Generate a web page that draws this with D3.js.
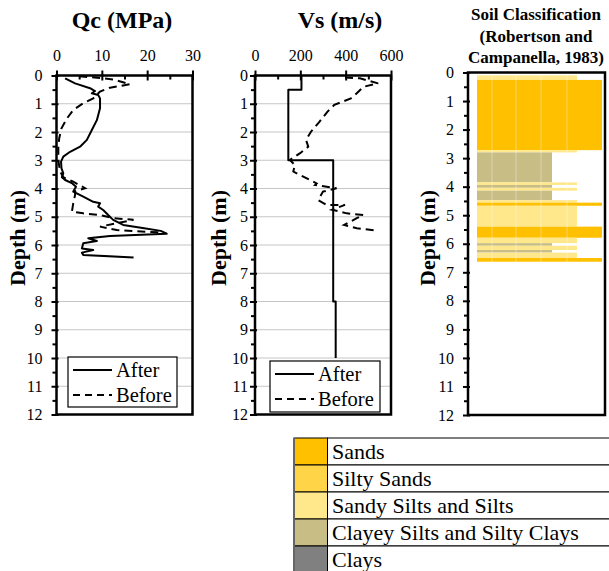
<!DOCTYPE html>
<html>
<head>
<meta charset="utf-8">
<script src="https://cdn.jsdelivr.net/npm/d3@7"></script>
<style>
  body { margin: 0; background: #fff; }
  svg { display: block; }
</style>
</head>
<body>
<svg id="chart" width="609" height="571"></svg>
<script>
// ---- data ----
const depthTicks = [0, 1, 2, 3, 4, 5, 6, 7, 8, 9, 10, 11, 12];
const depthMinor = [0.5, 1.5, 2.5, 3.5, 4.5, 5.5, 6.5, 7.5, 8.5, 9.5, 10.5, 11.5];
const qcTicks = [0, 10, 20, 30];
const qcMinor = [5, 15, 25];
const vsTicks = [0, 200, 400, 600];
const vsMinor = [100, 300, 500];
const seriesNames = ["After", "Before"];

// Qc after (solid)
const qcAfterDepth = [0.10, 0.28, 0.45, 0.55, 0.63, 0.69, 0.81, 1.16, 1.58, 1.93, 2.28, 2.52, 2.70, 2.87, 3.05, 3.29, 3.46, 3.60, 3.70, 3.82, 3.94, 4.11, 4.29, 4.47, 4.52, 4.64, 4.76, 4.94, 5.11, 5.29, 5.40, 5.50, 5.60, 5.68, 5.76, 5.86, 5.94, 6.12, 6.18, 6.27, 6.35, 6.44];
const qcAfter = [1.9, 4.1, 7.4, 8.5, 7.8, 9.2, 9.6, 9.6, 8.9, 7.8, 6.7, 5.2, 3.0, 1.5, 1.0, 1.1, 1.5, 1.2, 1.9, 3.5, 4.3, 3.7, 5.9, 8.1, 9.6, 9.2, 10.3, 11.4, 12.5, 14.7, 19.0, 23.0, 24.3, 11.8, 7.0, 8.9, 5.9, 5.6, 8.1, 5.6, 5.9, 17.0];

// Qc before (dashed)
const qcBeforeDepth = [0.03, 0.08, 0.14, 0.31, 0.43, 0.57, 0.81, 0.98, 1.22, 1.52, 1.87, 2.22, 2.52, 2.87, 3.10, 3.40, 3.60, 3.76, 3.99, 4.10, 4.23, 4.52, 4.82, 4.88, 4.94, 5.05, 5.11, 5.23, 5.35, 5.47, 5.53, 5.55];
const qcBefore = [5.0, 9.0, 12.5, 16.2, 11.8, 9.6, 8.1, 5.9, 3.7, 2.3, 1.1, 0.6, 0.4, 0.4, 0.5, 0.8, 1.5, 3.7, 6.3, 4.1, 4.1, 3.7, 3.4, 5.9, 9.6, 12.5, 17.0, 13.3, 9.6, 13.3, 19.9, 22.8];

// Vs after (solid, layered)
const vsAfterTop = [0, 0.5, 3, 8, 10];
const vsAfter = [205, 147, 345, 356, 356];

// Vs before (dashed)
const vsBeforeDepth = [0.07, 0.10, 0.28, 0.40, 0.63, 0.81, 1.04, 1.28, 1.64, 1.99, 2.28, 2.52, 2.75, 2.99, 3.17, 3.40, 3.58, 3.82, 3.88, 3.99, 4.11, 4.41, 4.58, 4.58, 4.75, 4.88, 4.94, 5.05, 5.29, 5.41, 5.49];
const vsBefore = [397, 463, 543, 478, 449, 423, 350, 320, 284, 247, 225, 235, 199, 154, 176, 169, 213, 272, 265, 360, 300, 279, 316, 397, 340, 405, 478, 449, 393, 449, 538];

// soil classes
const soilNames = ["Sands", "Silty Sands", "Sandy Silts and Silts", "Clayey Silts and Silty Clays", "Clays"];
const soilColors = ["#FFC000", "#FFD447", "#FFE88C", "#C7BD85", "#808080"];
const soilZone = [5, 4.5, 4, 3, 2];

// soil layers (depth top, depth bottom, class index)
const layerTop = [0.10, 0.26, 2.72, 2.80, 3.85, 3.94, 4.04, 4.14, 4.47, 4.56, 4.67, 5.40, 5.79, 5.98, 6.07, 6.22, 6.31, 6.50];
const layerBottom = [0.26, 2.72, 2.80, 3.85, 3.94, 4.04, 4.14, 4.47, 4.56, 4.67, 5.40, 5.79, 5.98, 6.07, 6.22, 6.31, 6.50, 6.63];
const layerSoil = [2, 0, 2, 3, 2, 3, 2, 3, 2, 0, 2, 0, 2, 3, 2, 3, 2, 0];

const svg = d3.select("#chart");
const zip = (xs, ys) => xs.map((v, i) => [v, ys[i]]);

function styleAxis(g, size) {
  g.attr("font-family", null).attr("font-size", size);
  g.select(".domain").remove();
  g.selectAll("line").attr("stroke", "#000").attr("stroke-width", 2);
}

function drawDepthAxis(y, left, labelGap) {
  const g = svg.append("g").attr("transform", `translate(${left},0)`);
  g.call(d3.axisLeft(y).tickValues(depthTicks).tickSize(5).tickPadding(labelGap).tickFormat(d3.format("d")));
  styleAxis(g, 16);
  svg.append("g").attr("transform", `translate(${left},0)`)
    .call(d3.axisLeft(y).tickValues(depthTicks).tickSize(-2).tickFormat(""))
    .call(g2 => styleAxis(g2, 16));
  svg.append("g").attr("transform", `translate(${left},0)`)
    .call(d3.axisLeft(y).tickValues(depthMinor).tickSize(4).tickFormat(""))
    .call(g2 => styleAxis(g2, 16));
}

function yLabel(cx, cy) {
  svg.append("text")
    .attr("transform", `translate(${cx},${cy}) rotate(-90)`)
    .attr("text-anchor", "middle")
    .attr("dy", "0.35em")
    .attr("font-weight", "bold")
    .attr("font-size", 22)
    .text("Depth (m)");
}

function drawProfile(cfg) {
  const x = d3.scaleLinear().domain(cfg.xDomain).range([cfg.left, cfg.right]);
  const y = d3.scaleLinear().domain([0, 12]).range([cfg.top, cfg.bottom]);

  // horizontal gridlines
  svg.append("g").selectAll("line")
    .data(depthTicks.slice(1, -1))
    .enter().append("line")
    .attr("x1", cfg.left).attr("x2", cfg.right)
    .attr("y1", d => y(d)).attr("y2", d => y(d))
    .attr("stroke", "#c6c6c6").attr("stroke-width", 1.2);

  // top axis
  const top = svg.append("g").attr("transform", `translate(0,${cfg.top})`);
  top.call(d3.axisTop(x).tickValues(cfg.xTicks).tickSize(5).tickPadding(10));
  styleAxis(top, 16);
  svg.append("g").attr("transform", `translate(0,${cfg.top})`)
    .call(d3.axisTop(x).tickValues(cfg.xTicks).tickSize(-5).tickFormat(""))
    .call(g => styleAxis(g, 16));
  svg.append("g").attr("transform", `translate(0,${cfg.top})`)
    .call(d3.axisTop(x).tickValues(cfg.xMinor).tickSize(-4).tickFormat(""))
    .call(g => styleAxis(g, 16));

  drawDepthAxis(y, cfg.left, cfg.labelGap);

  const line = d3.line().x(d => x(d[0])).y(d => y(d[1]));

  svg.append("path")
    .datum(cfg.after)
    .attr("fill", "none").attr("stroke", "#000").attr("stroke-width", 2)
    .attr("stroke-linejoin", "round")
    .attr("d", cfg.afterCurve ? line.curve(cfg.afterCurve) : line);

  svg.append("path")
    .datum(cfg.before)
    .attr("fill", "none").attr("stroke", "#000").attr("stroke-width", 2)
    .attr("stroke-dasharray", "8,5")
    .attr("d", d3.line().x(d => x(d[0])).y(d => y(d[1])));

  // frame
  svg.append("rect")
    .attr("x", cfg.left).attr("y", cfg.top)
    .attr("width", cfg.right - cfg.left).attr("height", cfg.bottom - cfg.top)
    .attr("fill", "none").attr("stroke", "#000").attr("stroke-width", 2.5);

  // title
  svg.append("text")
    .attr("x", cfg.titleX).attr("y", 28)
    .attr("text-anchor", "middle")
    .attr("font-weight", "bold").attr("font-size", 24)
    .text(cfg.title);

  yLabel(cfg.yLabelX, 238);

  // legend
  const lg = cfg.legend;
  svg.append("rect")
    .attr("x", lg.x).attr("y", lg.y).attr("width", lg.w).attr("height", lg.h)
    .attr("fill", "#fff").attr("stroke", "#000").attr("stroke-width", 1.2);
  const items = svg.append("g").selectAll("g")
    .data(seriesNames).enter().append("g")
    .attr("transform", (d, i) => `translate(${lg.x},${lg.y + 13 + i * 25})`);
  items.append("line")
    .attr("x1", 5).attr("x2", 44)
    .attr("stroke", "#000").attr("stroke-width", 2)
    .attr("stroke-dasharray", (d, i) => (i ? "7,5" : null));
  items.append("text")
    .attr("x", 48).attr("dy", "0.35em")
    .attr("font-size", 20.5)
    .text(d => d);
}

drawProfile({
  left: 56.5, right: 192.5, top: 75.5, bottom: 414.5,
  xDomain: [0, 30], xTicks: qcTicks, xMinor: qcMinor, labelGap: 9,
  after: zip(qcAfter, qcAfterDepth), before: zip(qcBefore, qcBeforeDepth),
  title: "Qc (MPa)", titleX: 122, yLabelX: 17,
  legend: { x: 68, y: 357, w: 109, h: 50 }
});

drawProfile({
  left: 255, right: 391, top: 75.5, bottom: 414.5,
  xDomain: [0, 600], xTicks: vsTicks, xMinor: vsMinor, labelGap: 2,
  after: zip(vsAfter, vsAfterTop), afterCurve: d3.curveStepBefore,
  before: zip(vsBefore, vsBeforeDepth),
  title: "Vs (m/s)", titleX: 340, yLabelX: 218,
  legend: { x: 270, y: 361, w: 110, h: 51 }
});

// ---- soil classification panel ----
(function () {
  const left = 468, right = 605, top = 72.5, bottom = 415;
  const y = d3.scaleLinear().domain([0, 12]).range([top, bottom]);
  const x = d3.scaleLinear().domain([0, 5]).range([477, 602]);

  const layers = layerTop.map((t, i) => ({ top: t, bottom: layerBottom[i], soil: layerSoil[i] }));
  svg.append("g").selectAll("rect")
    .data(layers).enter().append("rect")
    .attr("x", x(0))
    .attr("y", d => y(d.top))
    .attr("width", d => x(soilZone[d.soil]) - x(0))
    .attr("height", d => y(d.bottom) - y(d.top))
    .attr("fill", d => soilColors[d.soil]);

  // faint vertical gridlines showing through the fills
  svg.append("g").selectAll("line")
    .data([0.6, 1.56, 2.56, 3.6])
    .enter().append("line")
    .attr("x1", d => x(d)).attr("x2", d => x(d))
    .attr("y1", top).attr("y2", bottom)
    .attr("stroke", "#fff").attr("stroke-opacity", 0.3).attr("stroke-width", 1.2);

  drawDepthAxis(y, left, 9);

  svg.append("rect")
    .attr("x", left).attr("y", top)
    .attr("width", right - left).attr("height", bottom - top)
    .attr("fill", "none").attr("stroke", "#000").attr("stroke-width", 2.5);

  svg.append("text")
    .attr("x", 536).attr("font-weight", "bold").attr("font-size", 17)
    .attr("text-anchor", "middle")
    .selectAll("tspan")
    .data(["Soil Classification", "(Robertson and", "Campanella, 1983)"])
    .enter().append("tspan")
    .attr("x", 536).attr("y", (d, i) => 20 + i * 21.5)
    .text(d => d);

  yLabel(427, 238);
})();

// ---- soil legend table ----
(function () {
  const x0 = 294, swatchW = 33.5, x1 = 640;
  const rowY = d3.scaleBand().domain(soilNames).range([438, 438 + 27 * soilNames.length]);
  const rows = svg.append("g").selectAll("g")
    .data(soilNames).enter().append("g")
    .attr("transform", d => `translate(0,${rowY(d)})`);
  rows.append("rect")
    .attr("x", x0).attr("width", swatchW).attr("height", rowY.bandwidth())
    .attr("fill", (d, i) => soilColors[i])
    .attr("stroke", "#000").attr("stroke-width", 1);
  rows.append("rect")
    .attr("x", x0 + swatchW).attr("width", x1 - x0 - swatchW).attr("height", rowY.bandwidth())
    .attr("fill", "#fff")
    .attr("stroke", "#000").attr("stroke-width", 1);
  rows.append("text")
    .attr("x", x0 + swatchW + 4.5).attr("y", 21)
    .attr("font-size", 22)
    .text(d => d);
  svg.append("line")
    .attr("x1", x0).attr("x2", x0).attr("y1", 438).attr("y2", 571)
    .attr("stroke", "#666").attr("stroke-width", 2);
})();

// Times-like serif everywhere
svg.selectAll("text").style("font-family", "'Liberation Serif', serif");
</script>
</body>
</html>
